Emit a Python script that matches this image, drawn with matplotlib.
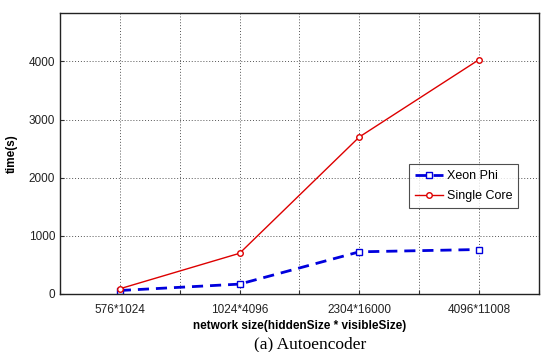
import numpy as np
import matplotlib.pyplot as plt

# data
sizes = ["576*1024", "1024*4096", "2304*16000", "4096*11008"]
xeon_phi = [60, 170, 725, 765]
single_core = [90, 700, 2700, 4030]

plt.rcParams["font.family"] = ["Liberation Sans", "DejaVu Sans"]

fig = plt.figure(figsize=(5.43, 3.52), dpi=100)
ax = fig.add_axes([0.1105, 0.1648, 0.882, 0.798])

x = np.arange(1, len(sizes) + 1)
ax.plot(x, xeon_phi, color="#0000dd", linestyle=(0, (4, 2.5)), linewidth=2,
        marker="s", markersize=5, markerfacecolor="white",
        markeredgecolor="#0000dd", markeredgewidth=1, label="Xeon Phi")
ax.plot(x, single_core, color="#dd0000", linestyle="-", linewidth=1,
        marker="o", markersize=4, markerfacecolor="white",
        markeredgecolor="#dd0000", markeredgewidth=1, label="Single Core")

ax.set_xlim(0.5, 4.47)
ax.set_ylim(0, 4830)
ticks = np.arange(0.5, 4.6, 0.5)
ax.set_xticks(ticks)
ax.set_xticklabels(["" if v % 1 else sizes[int(v) - 1] for v in ticks])
ax.set_yticks([0, 1000, 2000, 3000, 4000])
ax.tick_params(labelsize=8.5, direction="in", length=3, colors="#333333",
               labelcolor="#222222")
ax.tick_params(axis="x", pad=7)
ax.grid(True, linestyle=(0, (1, 2)), color="#555555", linewidth=0.7)
for s in ax.spines.values():
    s.set_linewidth(1.0)
    s.set_color("#222222")

ax.set_ylabel("time(s)", fontsize=8.5, fontweight="bold", labelpad=8)
ax.set_xlabel("network size(hiddenSize * visibleSize)", fontsize=8.5,
              fontweight="bold", labelpad=3)

leg = ax.legend(loc="upper left", bbox_to_anchor=(0.729, 0.462), fontsize=9,
                frameon=True, fancybox=False, handlelength=2.2,
                borderpad=0.5, labelspacing=0.6, handletextpad=0.3,
                borderaxespad=0)
leg.get_frame().set_edgecolor("#222222")
leg.get_frame().set_linewidth(0.8)

fig.text(0.571, 0.0, "(a) Autoencoder", fontsize=12.5,
         family=["Liberation Serif", "DejaVu Serif"], ha="center", va="bottom")

fig.savefig("out.png", dpi=100)
